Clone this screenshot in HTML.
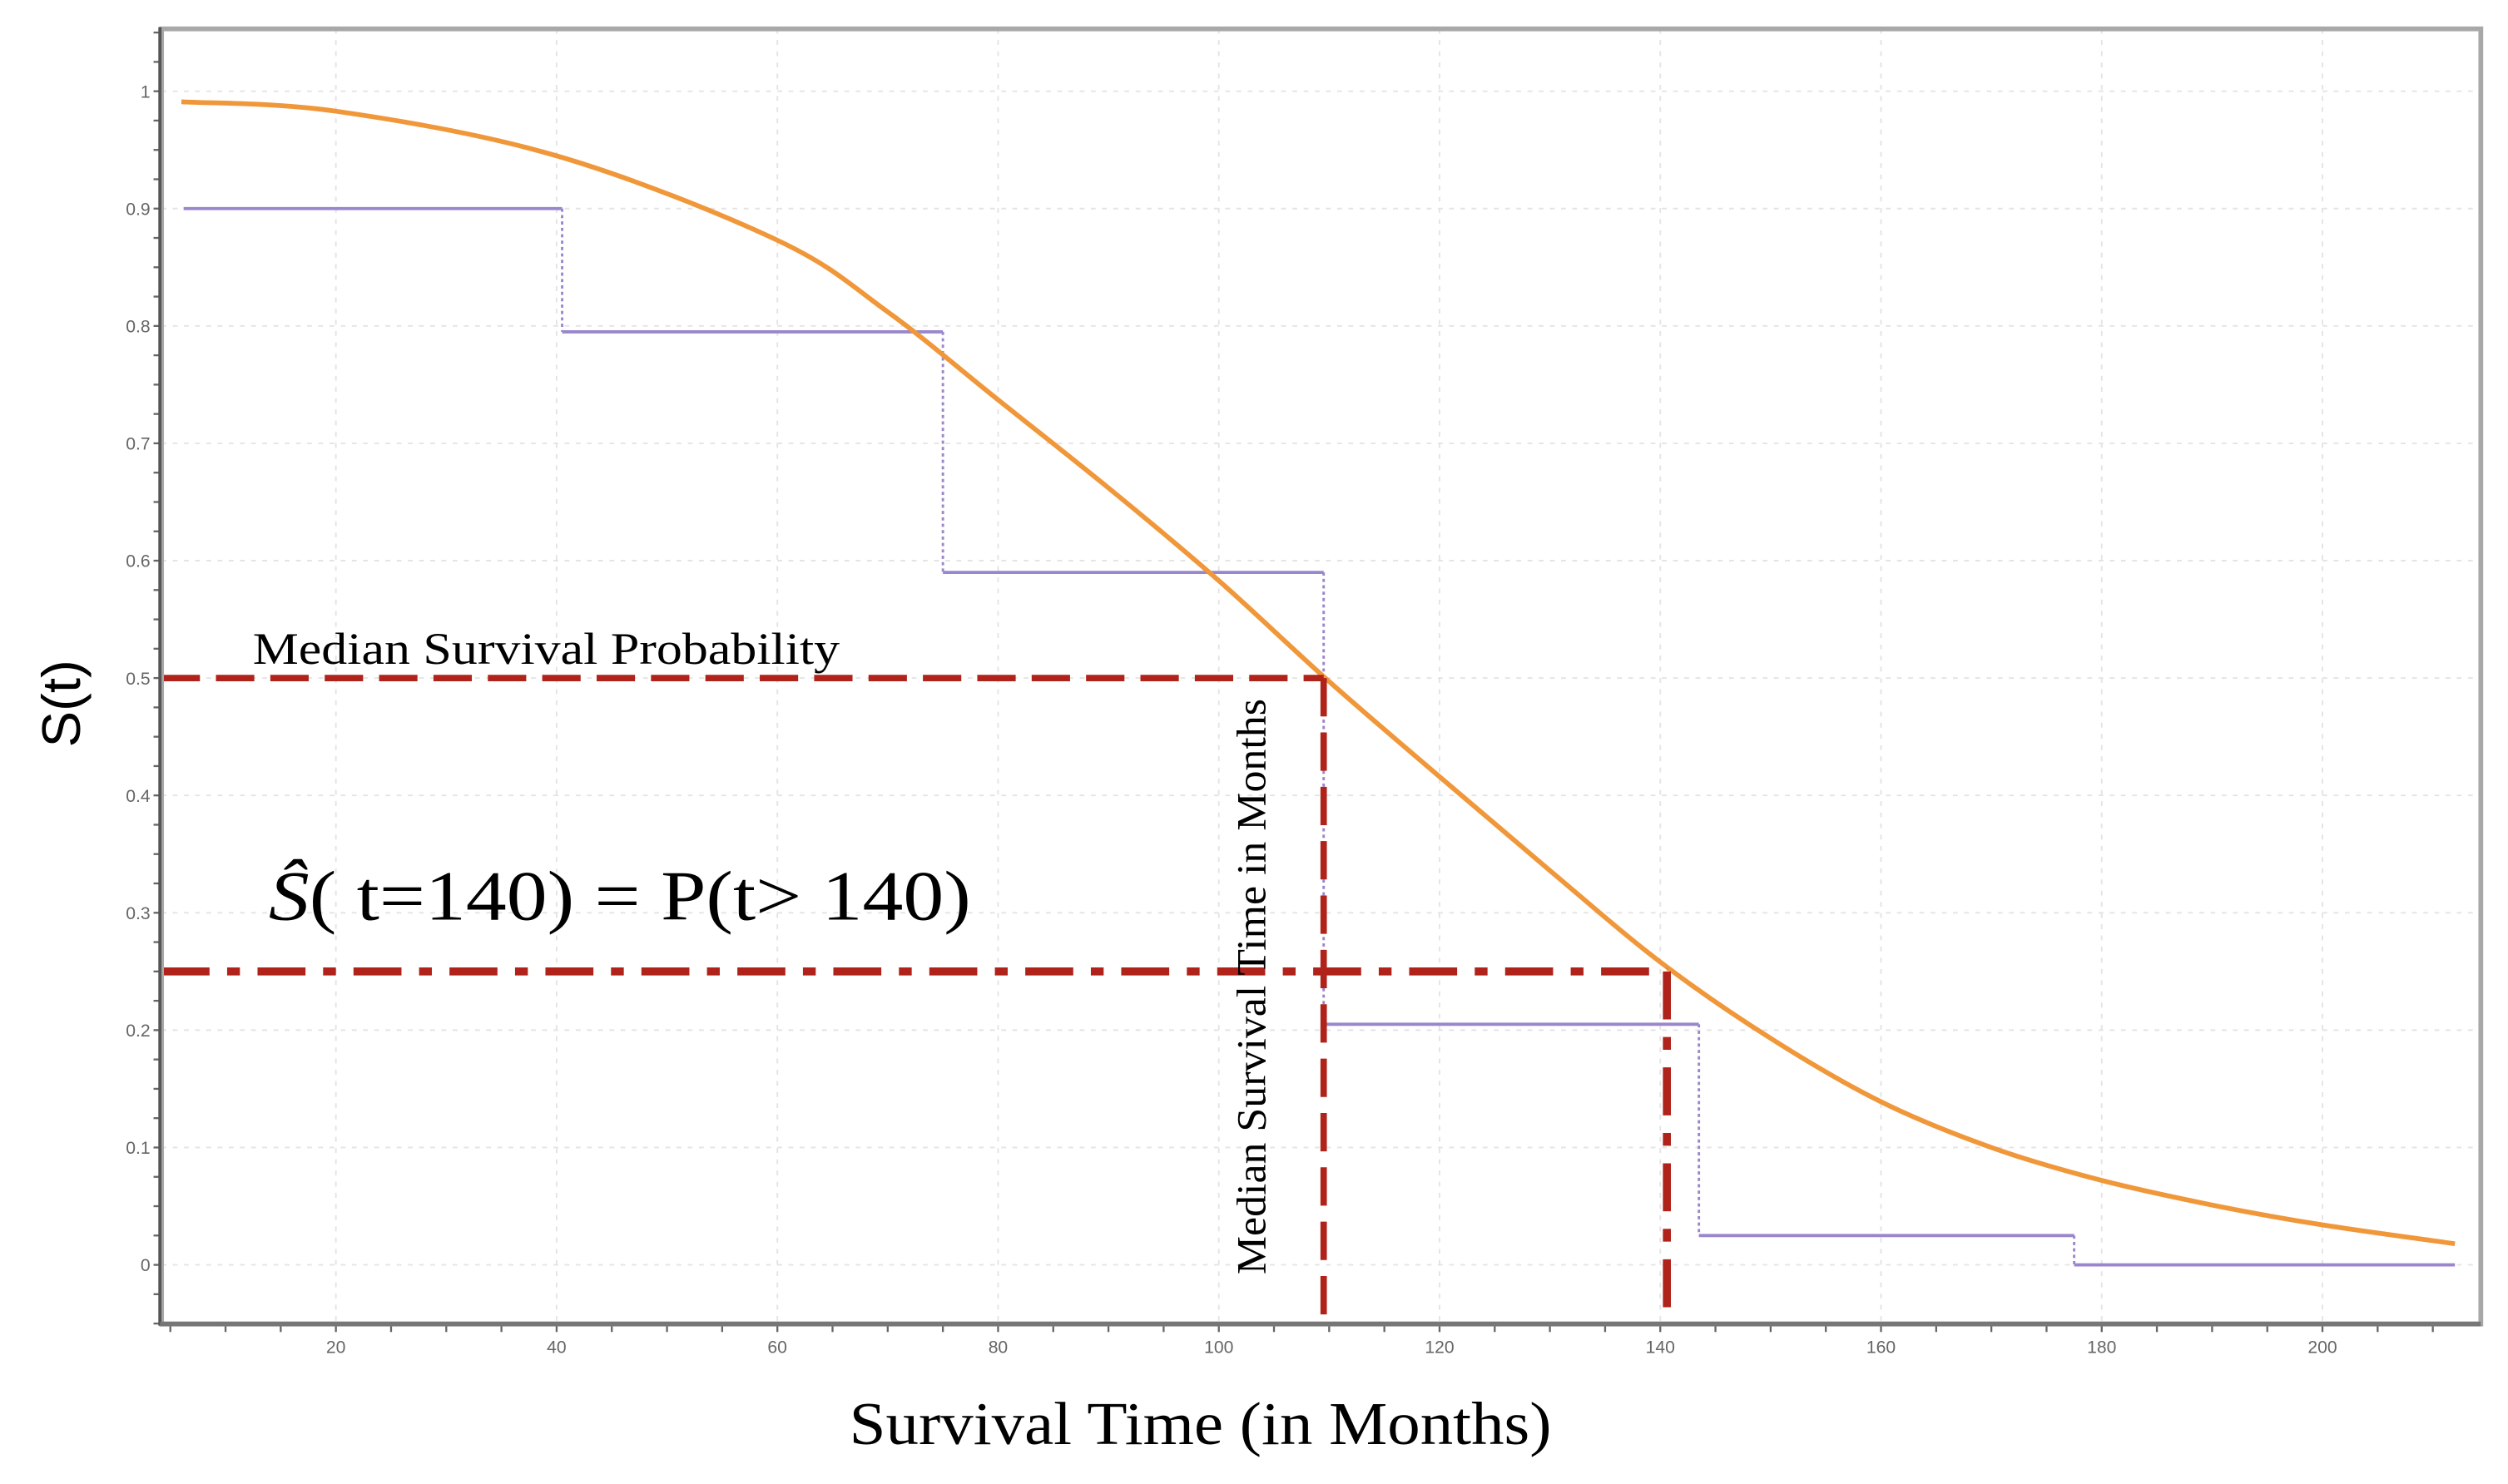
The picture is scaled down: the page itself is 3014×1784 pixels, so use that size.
<!DOCTYPE html>
<html><head><meta charset="utf-8"><style>
html,body{margin:0;padding:0;background:#fff;}
svg{display:block;}
</style></head><body>
<svg id="chart" width="3014" height="1784" viewBox="0 0 1568 928" xmlns="http://www.w3.org/2000/svg">
<rect width="1568" height="928" fill="#fff"/>
<g id="grid"></g>
<g id="ticks"></g>
<g id="series"></g>
<g id="refs"></g>
<rect x="101" y="18" width="1450" height="810" fill="none" stroke="#a8a8a8" stroke-width="3"/>
<line x1="100" y1="17" x2="100" y2="829" stroke="#555" stroke-width="2"/>
<line x1="100" y1="828" x2="1551" y2="828" stroke="#777" stroke-width="3"/>
<text x="158" y="415" font-family="Liberation Serif, serif" font-size="28" textLength="367" lengthAdjust="spacingAndGlyphs">Median Survival Probability</text>
<text x="168" y="575" font-family="Liberation Serif, serif" font-size="44" textLength="439" lengthAdjust="spacingAndGlyphs"><tspan font-style="italic">Ŝ</tspan>( t=140) = P(t&gt; 140)</text>
<text transform="translate(791,797) rotate(-90)" font-family="Liberation Serif, serif" font-size="26" textLength="360" lengthAdjust="spacingAndGlyphs">Median  Survival Time in Months</text>
<text transform="translate(50,440) rotate(-90)" text-anchor="middle" font-family="Liberation Sans, sans-serif" font-size="34">S(t)</text>
<text x="531" y="903" font-family="Liberation Serif, serif" font-size="38" textLength="439" lengthAdjust="spacingAndGlyphs">Survival Time (in Months)</text>
</svg>
<script>
const xTicks=[20,40,60,80,100,120,140,160,180,200];
const yTicks=[0,0.1,0.2,0.3,0.4,0.5,0.6,0.7,0.8,0.9,1];
const yTickLabels=["0","0.1","0.2","0.3","0.4","0.5","0.6","0.7","0.8","0.9","1"];
const kmTimes=[6.2,40.5,75,109.5,143.5,177.5,212];
const kmSurv=[0.9,0.795,0.59,0.205,0.025,0];
const curveT=[6,20,40,60,70,80,90,100,110,120,130,140,150,160,170,180,190,200,212];
const curveS=[0.991,0.983,0.945,0.873,0.812,0.737,0.662,0.583,0.497,0.416,0.336,0.258,0.193,0.139,0.1,0.072,0.051,0.034,0.018];
const medianT=109.5, medianS=0.5;
const queryT=140.6, queryS=0.25;

const X=t=>72+t*6.9;
const Y=s=>791-s*734;
const NS="http://www.w3.org/2000/svg";
function mk(tag,parent,attrs){const e=document.createElementNS(NS,tag);for(const k in attrs)e.setAttribute(k,attrs[k]);document.getElementById(parent).appendChild(e);return e;}

for(let i=0;i<xTicks.length;i++){
  const x=X(xTicks[i]);
  const g=mk('line','grid',{x1:x,y1:18,x2:x,y2:828,stroke:'#e4e4e4','stroke-width':1,'stroke-dasharray':'3,4'});
  
  
  const t=mk('text','ticks',{x:x,y:846,'text-anchor':'middle','font-family':'Liberation Sans, sans-serif','font-size':11,fill:'#666'});
  t.textContent=xTicks[i];
  
  
}
for(let m=5;m<=212;m+=5){
  const tk=mk('line','ticks',{x1:X(m),y1:828,x2:X(m),y2:833,stroke:'#666','stroke-width':1.2});
  
  
}
for(let i=0;i<yTicks.length;i++){
  const y=Y(yTicks[i]);
  const g=mk('line','grid',{x1:101,y1:y,x2:1550,y2:y,stroke:'#e4e4e4','stroke-width':1,'stroke-dasharray':'3,4'});
  
  
  const t=mk('text','ticks',{x:94,y:y+4,'text-anchor':'end','font-family':'Liberation Sans, sans-serif','font-size':11,fill:'#666'});
  t.textContent=yTickLabels[i];
  
  
}
for(let v=-0.05;v<=1.075;v+=0.025){
  const tk=mk('line','ticks',{x1:96,y1:Y(v),x2:100,y2:Y(v),stroke:'#666','stroke-width':1.2});
  
  
}
for(let i=0;i<kmSurv.length;i++){
  const h=mk('line','series',{x1:X(kmTimes[i]),y1:Y(kmSurv[i]),x2:X(kmTimes[i+1]),y2:Y(kmSurv[i]),stroke:'#9a86cc','stroke-width':2});
  
  
  if(i<kmSurv.length-1){
    const v=mk('line','series',{x1:X(kmTimes[i+1]),y1:Y(kmSurv[i]),x2:X(kmTimes[i+1]),y2:Y(kmSurv[i+1]),stroke:'#9a86cc','stroke-width':1.5,'stroke-dasharray':'2,2'});
    
    
  }
}
const P=curveT.map((t,i)=>[X(t),Y(curveS[i])]);
let d='M'+P[0][0].toFixed(1)+','+P[0][1].toFixed(1);
for(let i=0;i<P.length-1;i++){
  const p0=P[Math.max(0,i-1)],p1=P[i],p2=P[i+1],p3=P[Math.min(P.length-1,i+2)];
  const c1=[p1[0]+(p2[0]-p0[0])/6,p1[1]+(p2[1]-p0[1])/6];
  const c2=[p2[0]-(p3[0]-p1[0])/6,p2[1]-(p3[1]-p1[1])/6];
  d+='C'+c1[0].toFixed(1)+','+c1[1].toFixed(1)+' '+c2[0].toFixed(1)+','+c2[1].toFixed(1)+' '+p2[0].toFixed(1)+','+p2[1].toFixed(1);
}
const c=mk('path','series',{d:d,fill:'none',stroke:'#f0973a','stroke-width':3,'stroke-linejoin':'round'});


const red='#b0231b';
const a=mk('line','refs',{x1:101,y1:Y(medianS),x2:X(medianT),y2:Y(medianS),stroke:red,'stroke-width':4,'stroke-dasharray':'24,10'});


const b=mk('line','refs',{x1:X(medianT),y1:Y(medianS),x2:X(medianT),y2:828,stroke:red,'stroke-width':4,'stroke-dasharray':'24,10'});


const e=mk('line','refs',{x1:101,y1:Y(queryS),x2:X(queryT),y2:Y(queryS),stroke:red,'stroke-width':5,'stroke-dasharray':'30,11,8,11'});


const f=mk('line','refs',{x1:X(queryT),y1:Y(queryS),x2:X(queryT),y2:828,stroke:red,'stroke-width':5,'stroke-dasharray':'30,11,8,11'});


</script>
</body></html>
